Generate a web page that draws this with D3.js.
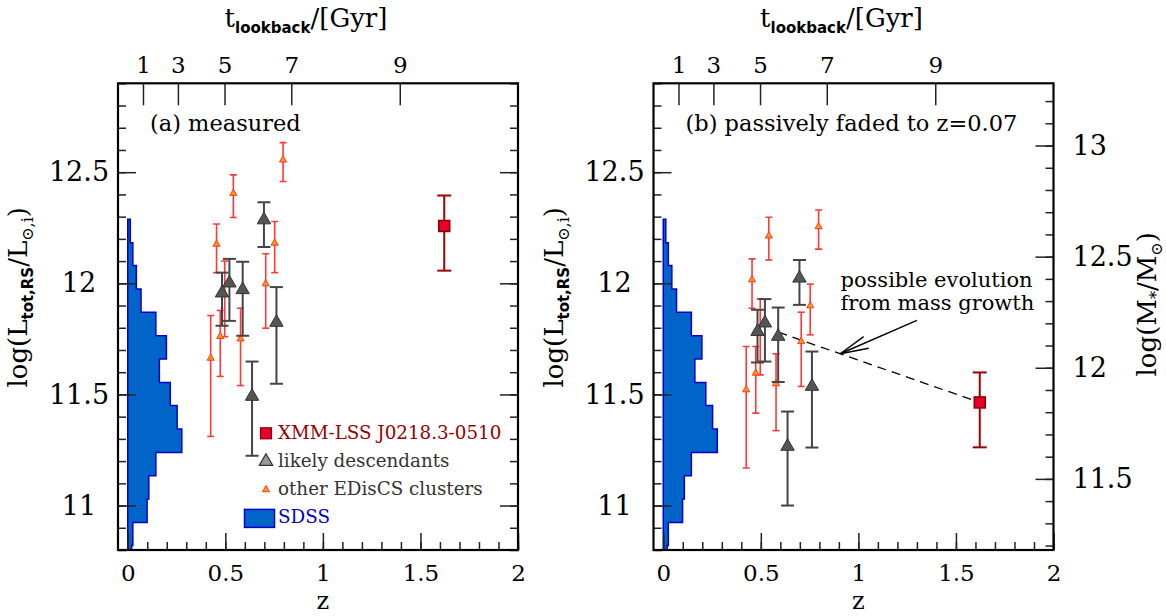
<!DOCTYPE html>
<html>
<head>
<meta charset="utf-8">
<script src="https://cdn.jsdelivr.net/npm/d3@7"></script>
<style>
  body { margin: 0; background: #fff; }
  svg text { font-family: "DejaVu Serif", serif; }
  .tick line { stroke: #222; stroke-width: 1.5; }
</style>
</head>
<body>
<script>
// ---- data ----
var lookbackGyr = [1, 3, 5, 7, 9];
var lookbackZ = [0.078, 0.257, 0.496, 0.838, 1.394];

// SDSS histogram: bin edges in log L, bar length in z units
var sdssEdges = [10.715, 10.82, 10.924, 11.029, 11.134, 11.239, 11.344, 11.45, 11.554, 11.659, 11.764, 11.87, 11.974, 12.08, 12.183, 12.288];
var sdssFrac = [0.02, 0.026, 0.099, 0.108, 0.144, 0.277, 0.253, 0.218, 0.162, 0.198, 0.144, 0.068, 0.044, 0.026, 0.013];

// other EDisCS clusters
var edisZ = [0.796, 0.541, 0.455, 0.753, 0.707, 0.497, 0.474, 0.578, 0.425];
var edisMeas = [12.555, 12.405, 12.176, 12.181, 11.998, 11.95, 11.761, 11.75, 11.663];
var edisMeasHi = [12.633, 12.488, 12.267, 12.278, 12.133, 12.10, 11.878, 11.888, 11.855];
var edisMeasLo = [12.458, 12.296, 12.048, 12.048, 11.798, 11.76, 11.581, 11.54, 11.311];
var edisFaded = [12.255, 12.213, 12.016, 11.899, 11.738, 11.775, 11.596, 11.548, 11.521];
var edisFadedHi = [12.330, 12.297, 12.110, 11.996, 11.870, 11.930, 11.716, 11.683, 11.716];
var edisFadedLo = [12.154, 12.105, 11.888, 11.768, 11.536, 11.588, 11.416, 11.337, 11.169];

// likely descendants
var descZ = [0.698, 0.521, 0.589, 0.483, 0.762, 0.637];
var descMeas = [12.285, 12.001, 11.971, 11.956, 11.824, 11.491];
var descMeasHi = [12.365, 12.110, 12.097, 12.048, 11.983, 11.648];
var descMeasLo = [12.163, 11.831, 11.764, 11.809, 11.548, 11.224];
var descFaded = [12.023, 11.821, 11.761, 11.783, 11.536, 11.266];
var descFadedHi = [12.105, 11.929, 11.891, 11.881, 11.693, 11.423];
var descFadedLo = [11.903, 11.648, 11.556, 11.644, 11.261, 11.000];

// XMM-LSS J0218.3-0510
var xmmZ = [1.622];
var xmmMeas = [12.258], xmmMeasHi = [12.395], xmmMeasLo = [12.057];
var xmmFaded = [11.464], xmmFadedHi = [11.599], xmmFadedLo = [11.262];

// log M* = log L + offset (right axis of panel b)
var massOffset = 0.38;
var evoZ = [0.59, 1.622], evoL = [11.78, 11.464];
var arrowZ = [1.30, 0.907], arrowL = [11.833, 11.683];

var zTicksMajor = [0, 0.5, 1, 1.5, 2];
var lTicksMajor = [11, 11.5, 12, 12.5];
var mTicksMajor = [11.5, 12, 12.5, 13];

// ---- layout ----
var W = 1166, H = 616;
var plotTop = 83.3, plotW = 400, plotH = 466.7;
var zDomain = [-0.05, 2], lDomain = [10.8, 12.9];
var serif = "'DejaVu Serif', serif", sans = "'DejaVu Sans', sans-serif";

var svg = d3.select("body").append("svg")
    .attr("width", W).attr("height", H);
var defs = svg.append("defs");

var colRed = "#ff3838", colGray = "#444", colXmm = "#a00000";

function errorBars(sel, zs, hi, lo, x, y, cap, color, width) {
    var g = sel.append("g").attr("stroke", color).attr("stroke-width", width).attr("fill", "none");
    var b = g.selectAll("g").data(d3.range(zs.length)).join("g");
    b.append("line").attr("x1", i => x(zs[i])).attr("x2", i => x(zs[i]))
        .attr("y1", i => y(hi[i])).attr("y2", i => y(lo[i]));
    b.append("line").attr("x1", i => x(zs[i]) - cap).attr("x2", i => x(zs[i]) + cap)
        .attr("y1", i => y(hi[i])).attr("y2", i => y(hi[i]));
    b.append("line").attr("x1", i => x(zs[i]) - cap).attr("x2", i => x(zs[i]) + cap)
        .attr("y1", i => y(lo[i])).attr("y2", i => y(lo[i]));
}

function triangles(sel, zs, ls, x, y, size, fill, stroke, sw) {
    sel.append("g").selectAll("path").data(d3.range(zs.length)).join("path")
        .attr("d", d3.symbol(d3.symbolTriangle, size))
        .attr("transform", i => `translate(${x(zs[i])},${y(ls[i])})`)
        .attr("fill", fill).attr("stroke", stroke).attr("stroke-width", sw);
}

function styleAxis(g) {
    g.attr("font-family", serif);
    g.select(".domain").remove();
    g.selectAll("text").attr("fill", "#000").attr("font-family", serif);
}

function sub(t, txt, size, fam) {
    t.append("tspan").attr("dy", 6).attr("font-size", size)
        .attr("font-family", fam || serif).text(txt);
}

function drawPanel(p) {
    var g = svg.append("g").attr("transform", `translate(${p.left},${plotTop})`);
    var x = d3.scaleLinear().domain(zDomain).range([0, plotW]);
    var y = d3.scaleLinear().domain(lDomain).range([plotH, 0]);

    defs.append("clipPath").attr("id", p.id + "-clip")
        .append("rect").attr("width", plotW).attr("height", plotH);
    var inner = g.append("g").attr("clip-path", `url(#${p.id}-clip)`);

    // SDSS histogram
    var pts = [[x(0), y(sdssEdges[0])]];
    sdssFrac.forEach(function (w, i) {
        pts.push([x(w), y(sdssEdges[i])], [x(w), y(sdssEdges[i + 1])]);
    });
    pts.push([x(0), y(sdssEdges[sdssEdges.length - 1])]);
    inner.append("path").attr("d", d3.line()(pts) + "Z")
        .attr("fill", "#0064c8").attr("stroke", "#0000d0").attr("stroke-width", 1.5);

    // evolution track (panel b)
    if (p.evo) {
        inner.append("path")
            .attr("d", d3.line()(evoZ.map((z, i) => [x(z), y(evoL[i])])))
            .attr("stroke", "#000").attr("stroke-width", 1.3)
            .attr("stroke-dasharray", "9,6").attr("fill", "none");
    }

    // other EDisCS clusters
    errorBars(inner, edisZ, p.edisHi, p.edisLo, x, y, 3.5, colRed, 1.6);
    triangles(inner, edisZ, p.edis, x, y, 22, "#ff9a00", colRed, 1);
    // likely descendants
    errorBars(inner, descZ, p.descHi, p.descLo, x, y, 6.5, colGray, 2);
    triangles(inner, descZ, p.desc, x, y, 78, "#555", "#333", 1);
    // XMM
    errorBars(inner, xmmZ, p.xmmHi, p.xmmLo, x, y, 7, colXmm, 2);
    inner.append("rect")
        .attr("x", x(xmmZ[0]) - 5.5).attr("y", y(p.xmm[0]) - 5.5)
        .attr("width", 11).attr("height", 11)
        .attr("fill", "#e6002a").attr("stroke", "#8b0000").attr("stroke-width", 1.5);

    // axes
    var bMinor = g.append("g").attr("transform", `translate(0,${plotH})`)
        .call(d3.axisBottom(x).tickValues(d3.range(0, 20.5, 1).map(d => d / 10)).tickSize(-8).tickFormat(""));
    styleAxis(bMinor);
    var bMajor = g.append("g").attr("transform", `translate(0,${plotH})`)
        .call(d3.axisBottom(x).tickValues(zTicksMajor).tickSize(-17).tickPadding(15).tickFormat(d => String(d)));
    styleAxis(bMajor);
    bMajor.selectAll("text").attr("font-size", 23);

    var tAx = g.append("g")
        .call(d3.axisTop(x).tickValues(lookbackZ).tickSize(-22).tickPadding(10)
            .tickFormat((d, i) => lookbackGyr[i]));
    styleAxis(tAx);
    tAx.selectAll("text").attr("font-size", 23);

    var lValsMinor = d3.range(108, 129.5, 1).map(d => d / 10);
    var lMinor = g.append("g").call(d3.axisLeft(y).tickValues(lValsMinor).tickSize(-8).tickFormat(""));
    styleAxis(lMinor);
    var lMajor = g.append("g").call(d3.axisLeft(y).tickValues(lTicksMajor).tickSize(-18).tickFormat(d => String(d)));
    styleAxis(lMajor);
    lMajor.selectAll("text").attr("font-size", 27).attr("text-anchor", "middle").attr("x", -39);

    var rg = g.append("g").attr("transform", `translate(${plotW},0)`);
    if (p.mass) {
        var ym = d3.scaleLinear().domain(lDomain.map(d => d + massOffset)).range([plotH, 0]);
        var mMinor = rg.append("g").call(d3.axisRight(ym).tickValues(d3.range(112, 132.5, 1).map(d => d / 10)).tickSize(-8).tickFormat(""));
        styleAxis(mMinor);
        var mMajor = rg.append("g").call(d3.axisRight(ym).tickValues(mTicksMajor).tickSize(-18).tickPadding(19).tickFormat(d => String(d)));
        styleAxis(mMajor);
        mMajor.selectAll("text").attr("font-size", 27).attr("text-anchor", "start");
    } else {
        styleAxis(rg.append("g").call(d3.axisRight(y).tickValues(lValsMinor).tickSize(-8).tickFormat("")));
        styleAxis(rg.append("g").call(d3.axisRight(y).tickValues(lTicksMajor).tickSize(-18).tickFormat("")));
    }

    // frame
    g.append("rect").attr("width", plotW).attr("height", plotH)
        .attr("fill", "none").attr("stroke", "#000").attr("stroke-width", 2.2);

    // panel label
    g.append("text").attr("x", 32).attr("y", 48).attr("font-size", 22.5)
        .attr("font-family", serif).text(p.label);

    // axis titles
    g.append("text").attr("x", x(1)).attr("y", 526).attr("text-anchor", "middle")
        .attr("font-size", 24).attr("font-family", serif).text("z");

    var tt = g.append("text").attr("x", 188).attr("y", -56).attr("text-anchor", "middle")
        .attr("font-size", 26).attr("font-family", serif);
    tt.append("tspan").text("t");
    sub(tt, "lookback", 15, sans);
    tt.select("tspan:last-child").attr("font-weight", "bold");
    tt.append("tspan").attr("dy", -6).text("/[Gyr]");

    var yt = g.append("text").attr("text-anchor", "middle").attr("font-size", 26)
        .attr("font-family", serif)
        .attr("transform", `translate(-91,${214}) rotate(-90)`);
    yt.append("tspan").text("log(L");
    sub(yt, "tot,RS", 15, sans);
    yt.select("tspan:last-child").attr("font-weight", "bold");
    yt.append("tspan").attr("dy", -6).text("/L");
    sub(yt, "⊙,i", 16);
    yt.append("tspan").attr("dy", -6).text(")");

    if (p.mass) {
        var mt = g.append("text").attr("text-anchor", "middle").attr("font-size", 26)
            .attr("font-family", serif)
            .attr("transform", `translate(${plotW + 102},${221}) rotate(-90)`);
        mt.append("tspan").text("log(M");
        sub(mt, "*", 16);
        mt.append("tspan").attr("dy", -6).text("/M");
        sub(mt, "⊙", 16);
        mt.append("tspan").attr("dy", -6).text(")");
    }

    if (p.legend) drawLegend(g);
    if (p.evo) drawArrow(g, x, y);
}

function drawLegend(g) {
    var items = [
        { label: "XMM-LSS J0218.3-0510", color: "#990000", kind: "square" },
        { label: "likely descendants", color: "#333", kind: "tri" },
        { label: "other EDisCS clusters", color: "#333", kind: "small" },
        { label: "SDSS", color: "#0000cc", kind: "box" }
    ];
    var lg = g.append("g").attr("transform", "translate(148,350)");
    var row = lg.selectAll("g").data(items).join("g")
        .attr("transform", (d, i) => `translate(0,${i * 28.2})`);
    row.append("text").attr("x", 12).attr("y", 5.5).attr("font-size", 18.3)
        .attr("font-family", serif)
        .attr("fill", d => d.color).text(d => d.label);
    row.filter(d => d.kind === "square").append("rect")
        .attr("x", -5.5).attr("y", -5.5).attr("width", 11).attr("height", 11)
        .attr("fill", "#e6002a").attr("stroke", "#8b0000").attr("stroke-width", 1.2);
    row.filter(d => d.kind === "tri").append("path")
        .attr("d", d3.symbol(d3.symbolTriangle, 78)).attr("fill", "#999").attr("stroke", "#333").attr("stroke-width", 1.2);
    row.filter(d => d.kind === "small").append("path")
        .attr("d", d3.symbol(d3.symbolTriangle, 22)).attr("fill", "#ff9a00").attr("stroke", colRed);
    row.filter(d => d.kind === "box").append("rect")
        .attr("x", -21.5).attr("y", -8.5).attr("width", 30).attr("height", 18)
        .attr("fill", "#0064c8").attr("stroke", "#0000d0").attr("stroke-width", 1.5);
}

function drawArrow(g, x, y) {
    var tail = [x(arrowZ[0]), y(arrowL[0])], tip = [x(arrowZ[1]), y(arrowL[1])];
    var ang = Math.atan2(tail[1] - tip[1], tail[0] - tip[0]);
    var a = g.append("g").attr("stroke", "#000").attr("stroke-width", 1.4).attr("fill", "none");
    a.append("line").attr("x1", tail[0]).attr("y1", tail[1]).attr("x2", tip[0]).attr("y2", tip[1]);
    [-0.22, 0.22].forEach(function (da) {
        a.append("line").attr("x1", tip[0]).attr("y1", tip[1])
            .attr("x2", tip[0] + 29 * Math.cos(ang + da)).attr("y2", tip[1] + 29 * Math.sin(ang + da));
    });
    var t = g.append("text").attr("font-size", 21).attr("font-family", serif);
    t.append("tspan").attr("x", 187).attr("y", 204).text("possible evolution");
    t.append("tspan").attr("x", 187).attr("y", 227).text("from mass growth");
}

drawPanel({
    id: "pa", left: 118, label: "(a) measured",
    edis: edisMeas, edisHi: edisMeasHi, edisLo: edisMeasLo,
    desc: descMeas, descHi: descMeasHi, descLo: descMeasLo,
    xmm: xmmMeas, xmmHi: xmmMeasHi, xmmLo: xmmMeasLo,
    legend: true
});
drawPanel({
    id: "pb", left: 653.5, label: "(b) passively faded to z=0.07",
    edis: edisFaded, edisHi: edisFadedHi, edisLo: edisFadedLo,
    desc: descFaded, descHi: descFadedHi, descLo: descFadedLo,
    xmm: xmmFaded, xmmHi: xmmFadedHi, xmmLo: xmmFadedLo,
    mass: true, evo: true
});
</script>
</body>
</html>
